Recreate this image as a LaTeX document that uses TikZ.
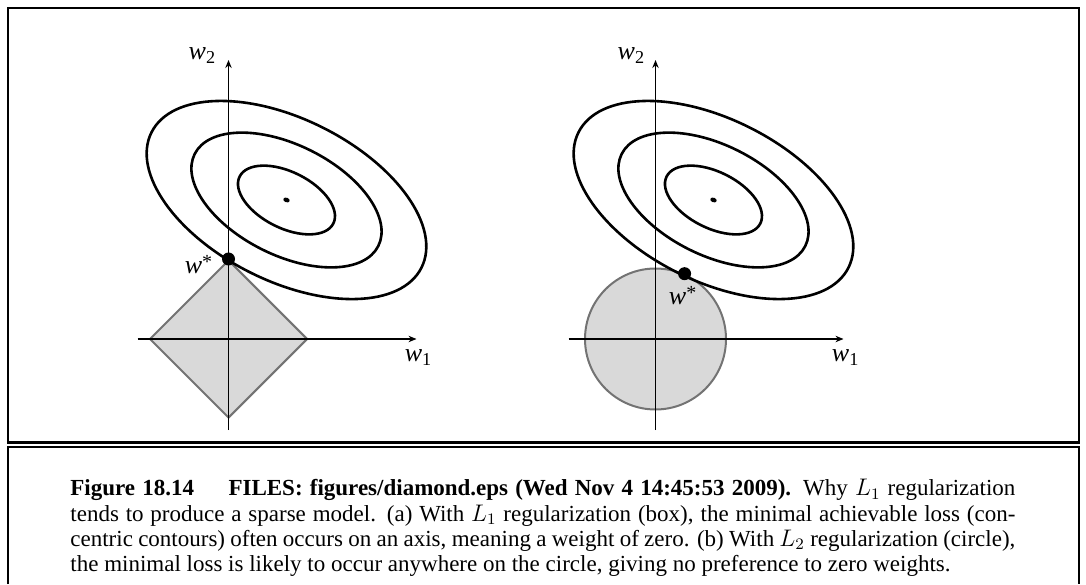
\documentclass[tikz,border=0pt]{standalone}
\usepackage{fontspec}
\setmainfont{Liberation Serif}
\usetikzlibrary{arrows.meta, positioning, calc, shapes.geometric}

\begin{document}
\begin{tikzpicture}[
    x=0.5pt, y=0.5pt, >={Stealth[length=4pt, width=3.2pt]},
    % ---- styles ----
    frame/.style = {line width=1.1pt},
    axis/.style = {->, line width=0.7pt},
    contour/.style = {line width=1.3pt},
    region/.style = {draw=black!55, fill=black!15, line width=1pt, inner sep=0pt},
    optdot/.style = {circle, fill=black, inner sep=0pt, minimum size=6.5pt},
    axlabel/.style = {inner sep=0pt, font=\fontsize{13}{13}\selectfont},
    captext/.style = {inner sep=0pt, text width=472.5pt, align=justify, font=\fontsize{11.5}{12.6}\selectfont}
  ]
  \useasboundingbox (0,0) rectangle (1086,584);

  % ===================== frames =====================
  \draw[frame] (8,576) rectangle (1079,141.5);
  \draw[frame] (8,0) -- (8,137) -- (1079,137) -- (1079,0);

  % ===================== left: L1 box =====================
  \coordinate (O1) at (228.5,245);
  \coordinate (C1) at ($(O1)+(58,139)$);
  \node[region, diamond, minimum size=79pt] (box) at (O1) {};

  % axes
  \coordinate (x1s) at ($(O1)+(-91,0)$);
  \coordinate (x1e) at ($(O1)+(188,0)$);
  \coordinate (y1s) at ($(O1)+(0,-91)$);
  \coordinate (y1e) at ($(O1)+(0,279)$);
  \draw[axis] (x1s) -- (x1e);
  \draw[axis] (y1s) -- (y1e);

  % contours
  \draw[contour, rotate around={-26.6:(C1)}] (C1) ellipse [x radius=151, y radius=81];
  \draw[contour, rotate around={-26.6:(C1)}] (C1) ellipse [x radius=102.7, y radius=55.1];
  \draw[contour, rotate around={-26.6:(C1)}] (C1) ellipse [x radius=52.4, y radius=28.1];
  \fill[rotate around={-20:(C1)}] (C1) ellipse [x radius=3.3, y radius=2.3];

  % optimum on the corner
  \node[optdot] (opt1) at (box.north) {};
  \node[axlabel, anchor=base east] (ws1) at ($(opt1)+(-16,-15)$) {\textit{w}\raisebox{2.5pt}{\fontsize{10}{10}\selectfont *}};
  \node[axlabel, anchor=base east] (w21) at ($(y1e)+(-12,0)$) {\textit{w}\textsubscript{2}};
  \node[axlabel, anchor=base west] (w11) at ($(x1e)+(-12,-23)$) {\textit{w}\textsubscript{1}};

  % ===================== right: L2 circle =====================
  \coordinate (O2) at (655.5,245);
  \coordinate (C2) at ($(O2)+(58,139)$);
  \node[region, circle, minimum size=70.5pt] (ball) at (O2) {};

  % axes
  \coordinate (x2s) at ($(O2)+(-87,0)$);
  \coordinate (x2e) at ($(O2)+(188,0)$);
  \coordinate (y2s) at ($(O2)+(0,-91)$);
  \coordinate (y2e) at ($(O2)+(0,279)$);
  \draw[axis] (x2s) -- (x2e);
  \draw[axis] (y2s) -- (y2e);

  % contours
  \draw[contour, rotate around={-26.6:(C2)}] (C2) ellipse [x radius=151, y radius=81];
  \draw[contour, rotate around={-26.6:(C2)}] (C2) ellipse [x radius=102.7, y radius=55.1];
  \draw[contour, rotate around={-26.6:(C2)}] (C2) ellipse [x radius=52.4, y radius=28.1];
  \fill[rotate around={-20:(C2)}] (C2) ellipse [x radius=3.3, y radius=2.3];

  % optimum on the circle
  \node[optdot] (opt2) at (ball.66) {};
  \node[axlabel, anchor=base west] (ws2) at ($(opt2)+(-16,-31)$) {\textit{w}\raisebox{2.5pt}{\fontsize{10}{10}\selectfont *}};
  \node[axlabel, anchor=base east] (w22) at ($(y2e)+(-10,0)$) {\textit{w}\textsubscript{2}};
  \node[axlabel, anchor=base west] (w12) at ($(x2e)+(-12,-23)$) {\textit{w}\textsubscript{1}};

  % ===================== caption =====================
  \node[captext, anchor=north west] (cap) at (70,105) {%
    \textbf{Figure 18.14}\hspace{1.5em}\textbf{FILES: figures/diamond.eps (Wed Nov 4 14:45:53 2009).} Why $L_1$ regularization\linebreak
    tends to produce a sparse model. (a) With $L_1$ regularization (box), the minimal achievable loss (con-\linebreak
    centric contours) often occurs on an axis, meaning a weight of zero. (b) With $L_2$ regularization (circle),\linebreak
    the minimal loss is likely to occur anywhere on the circle, giving no preference to zero weights.};

\end{tikzpicture}
\end{document}
